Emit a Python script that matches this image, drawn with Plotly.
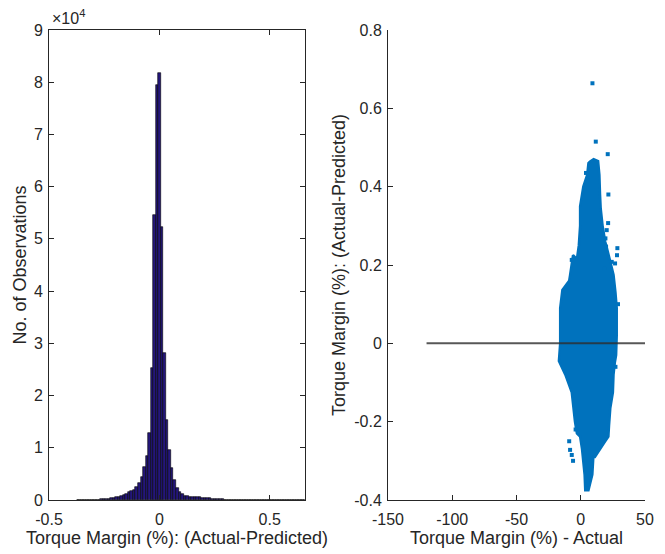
import plotly.graph_objects as go

# ---------------- data ----------------
# histogram of (Actual - Predicted) torque margin
bin_start = -0.372
bin_width = 0.01147
hist_counts = [
    5, 8, 10, 15, 20, 30, 40, 60, 80, 110,
    150, 200, 260, 320, 400, 500, 640, 800, 1000, 1200,
    1450, 1650, 2000, 2400, 3200, 4470, 6380, 8430, 12900, 25200,
    54600, 79500, 81700, 52300, 28100, 15300, 9570, 6130, 3830, 2300,
    1600, 1150, 850, 700, 640, 600, 560, 520, 480, 440,
    400, 360, 320, 280, 240, 200, 160, 120, 90, 70,
    55, 45, 38, 32, 27, 23, 20, 17, 15, 13,
    11, 10, 9, 8, 7, 6, 6, 5, 5, 4,
    4, 3, 3, 3, 2, 2, 2, 1, 1, 1,
]
hist_centers = [bin_start + bin_width * (i + 0.5) for i in range(len(hist_counts))]

# outline of the dense scatter cloud (Actual, Actual-Predicted)
cloud_x = [7.5, 10, 13.5, 14.5, 15, 15.5, 17, 19, 21, 23, 25.5, 27, 28, 28, 27.5,
           26.5, 25.5, 25, 23, 22, 21.5, 19, 15, 11, 9.8, 9, 6, 3.5, 3, 1.8, 1,
           -0.5, -3, -4.5, -5.7, -7, -12, -17, -16, -16, -14.3, -9, -8.3, -6, -3,
           -1.5, -0.5, -0.5, 2, 5, 6]
cloud_y = [0.465, 0.47, 0.465, 0.43, 0.38, 0.345, 0.30, 0.26, 0.235, 0.21, 0.175,
           0.13, 0.09, 0.02, -0.03, -0.05, -0.08, -0.125, -0.165, -0.21, -0.238,
           -0.25, -0.27, -0.29, -0.29, -0.335, -0.375, -0.375, -0.335, -0.29,
           -0.27, -0.238, -0.23, -0.2, -0.153, -0.125, -0.08, -0.045, 0, 0.09,
           0.136, 0.16, 0.174, 0.225, 0.215, 0.25, 0.3, 0.35, 0.4, 0.43, 0.46]

# individual scattered points around the cloud
pts_x = [9.1, 11.7, 21, 21.5, 19.2, 21.3, 20.2, 19.7, 28.5, 28.2, 26.7, 4.1,
         18.4, 24.1, -7, -12.2, -8.3, -7, -9, -6, -4, 4.7, 5.5, 29, 27]
pts_y = [0.664, 0.515, 0.483, 0.380, 0.268, 0.307, 0.289, 0.247, 0.243, 0.225,
         0.204, 0.435, 0.191, 0.208, 0.213, 0.136, -0.272, -0.285, -0.25,
         -0.30, -0.22, -0.37, -0.36, 0.10, -0.06]

# zero reference line
ref_x = [-120, 50]
ref_y = [0, 0]

hist_xticks = [-0.5, 0, 0.5]
hist_xticklabels = ["-0.5", "0", "0.5"]
hist_yticks = [i * 10000 for i in range(10)]
hist_yticklabels = [str(i) for i in range(10)]
sc_xticks = [-150, -100, -50, 0, 50]
sc_xticklabels = ["-150", "-100", "-50", "0", "50"]
sc_yticks = [-0.4, -0.2, 0, 0.2, 0.4, 0.6, 0.8]
sc_yticklabels = ["-0.4", "-0.2", "0", "0.2", "0.4", "0.6", "0.8"]

# ---------------- figure ----------------
W, H = 665, 554
AX = "#262626"
FONT = "Liberation Sans, Arial, sans-serif"

fig = go.Figure()

fig.add_trace(go.Bar(
    x=hist_centers, y=hist_counts, width=bin_width,
    marker=dict(color="#24167a", line=dict(color="#000000", width=0.6)),
    xaxis="x", yaxis="y", showlegend=False,
))

fig.add_trace(go.Scatter(
    x=cloud_x + [cloud_x[0]], y=cloud_y + [cloud_y[0]],
    mode="lines", fill="toself", fillcolor="#0072BD",
    line=dict(color="#0072BD", width=2.5),
    xaxis="x2", yaxis="y2", showlegend=False, hoverinfo="skip",
))
fig.add_trace(go.Scatter(
    x=pts_x, y=pts_y, mode="markers",
    marker=dict(symbol="square", size=4, color="#0072BD"),
    xaxis="x2", yaxis="y2", showlegend=False,
))
fig.add_trace(go.Scatter(
    x=ref_x, y=ref_y, mode="lines",
    line=dict(color="rgba(45,45,45,0.8)", width=2),
    xaxis="x2", yaxis="y2", showlegend=False,
))

def px(v):
    return v / W

def py(v):
    return 1 - v / H

tick_font = dict(family=FONT, size=16, color=AX)
title_font = dict(family=FONT, size=18, color=AX)

common = dict(showgrid=False, zeroline=False, showline=True, linecolor=AX,
              linewidth=1, ticks="inside", ticklen=5, tickcolor=AX,
              tickfont=tick_font, automargin=False)

fig.update_layout(
    width=W, height=H,
    margin=dict(l=0, r=0, t=0, b=0),
    paper_bgcolor="white", plot_bgcolor="white",
    bargap=0,
    xaxis=dict(domain=[px(49), px(305)], range=[-0.5, 0.66],
               tickvals=hist_xticks, ticktext=hist_xticklabels,
               mirror="ticks", anchor="y", ticklabelstandoff=5,
               title=dict(text="Torque Margin (%): (Actual-Predicted)",
                          font=title_font, standoff=4),
               **common),
    yaxis=dict(domain=[py(500), py(30)], range=[0, 90000],
               tickvals=hist_yticks, ticktext=hist_yticklabels,
               mirror="ticks", anchor="x", ticklabelstandoff=2,
               title=dict(text="No. of Observations", font=title_font,
                          standoff=2),
               **common),
    xaxis2=dict(domain=[px(388), px(645)], range=[-150, 50],
                tickvals=sc_xticks, ticktext=sc_xticklabels, anchor="y2",
                ticklabelstandoff=5,
                title=dict(text="Torque Margin (%) - Actual",
                           font=title_font, standoff=4),
                **common),
    yaxis2=dict(domain=[py(500), py(30)], range=[-0.4, 0.8],
                tickvals=sc_yticks, ticktext=sc_yticklabels, anchor="x2",
                ticklabelstandoff=2,
                title=dict(text="Torque Margin (%): (Actual-Predicted)",
                           font=title_font, standoff=3),
                **common),
    annotations=[dict(
        x=px(50), y=py(29), xref="paper", yref="paper",
        xanchor="left", yanchor="bottom", showarrow=False,
        text="\u00d710<sup>4</sup>", font=dict(family=FONT, size=16, color=AX),
    )],
)

fig.write_html("out.html")
